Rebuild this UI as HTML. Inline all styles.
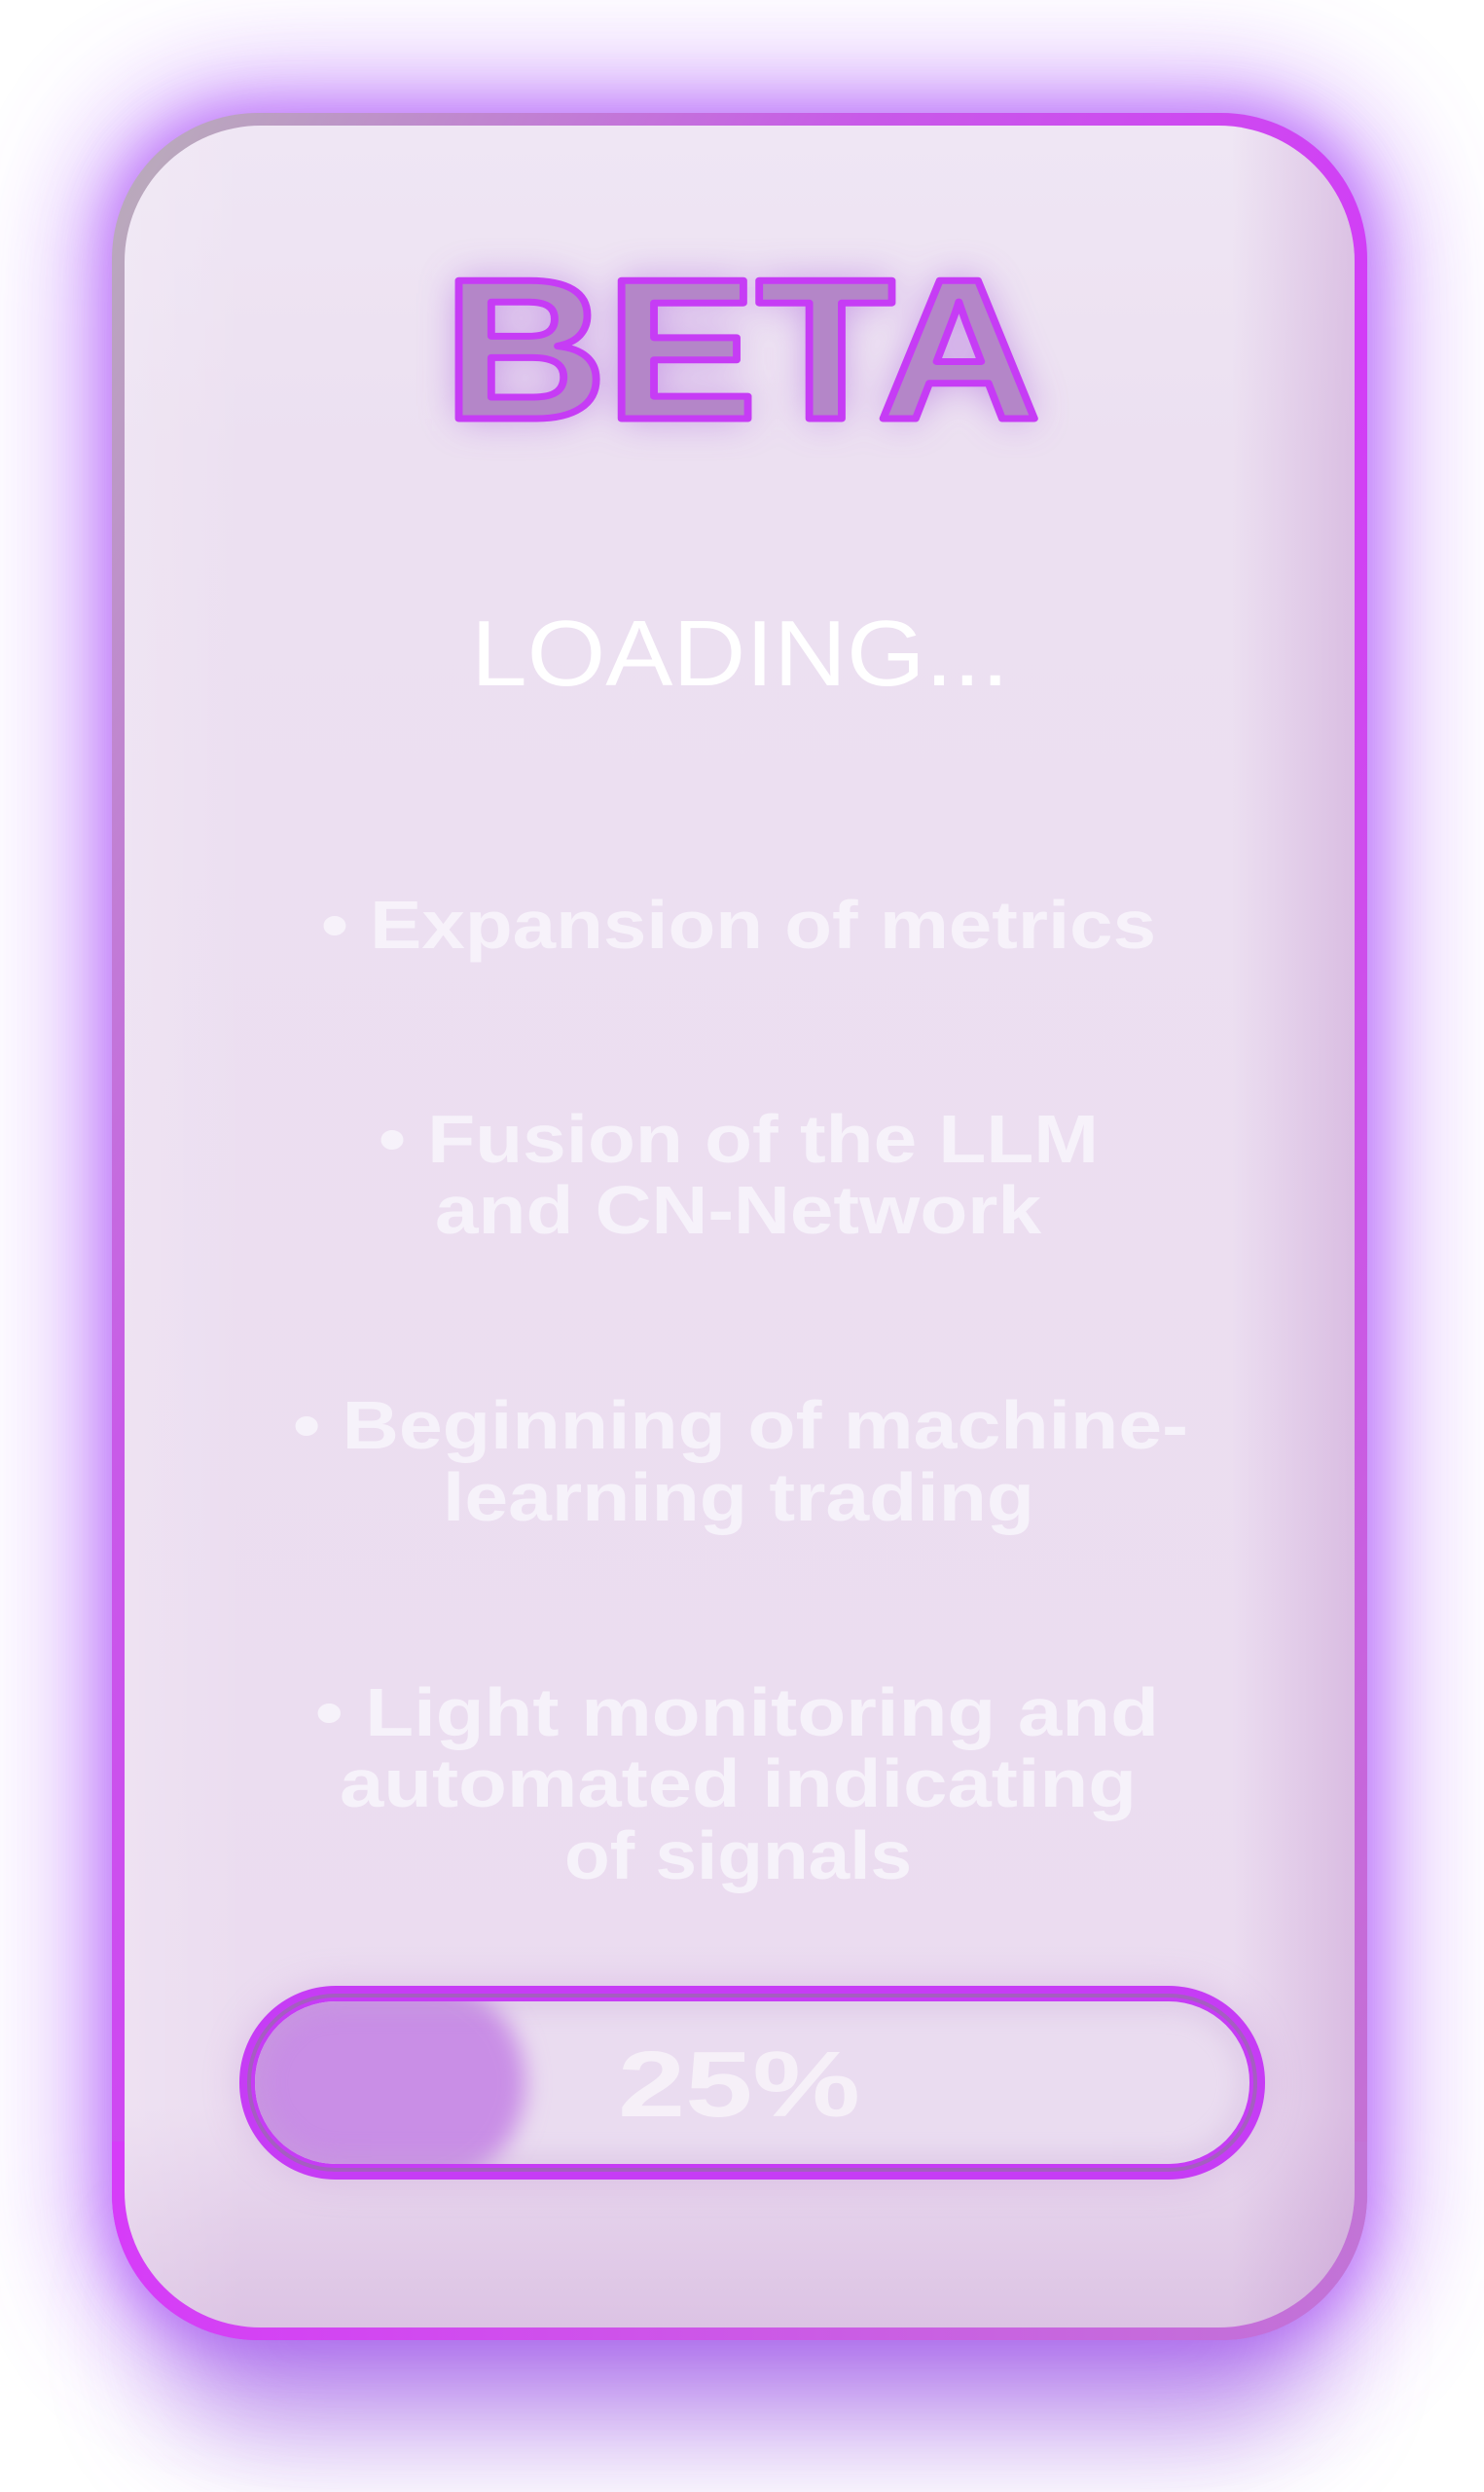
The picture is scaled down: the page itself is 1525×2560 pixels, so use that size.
<!DOCTYPE html>
<html><head><meta charset="utf-8"><style>
html,body{margin:0;padding:0;background:#fff;}
svg{display:block}
</style></head><body>
<svg width="1525" height="2560" viewBox="0 0 1525 2560" xmlns="http://www.w3.org/2000/svg">
<defs>
<filter id="glow" x="-30%" y="-30%" width="160%" height="160%"><feGaussianBlur stdDeviation="60"/></filter>
<filter id="glow2" x="-30%" y="-30%" width="160%" height="160%"><feGaussianBlur stdDeviation="25"/></filter>
<filter id="b20" x="-50%" y="-50%" width="200%" height="200%"><feGaussianBlur stdDeviation="20"/></filter>
<filter id="b10" x="-50%" y="-50%" width="200%" height="200%"><feGaussianBlur stdDeviation="12"/></filter>
<linearGradient id="border" x1="0" y1="0" x2="1" y2="1">
<stop offset="0" stop-color="#b8b0b8"/><stop offset="0.3" stop-color="#c85ae8"/><stop offset="0.55" stop-color="#d23cf7"/><stop offset="1" stop-color="#c277d0"/>
</linearGradient>
<linearGradient id="bl" x1="0" y1="0" x2="1" y2="0">
<stop offset="0" stop-color="#d63cf8"/><stop offset="1" stop-color="#c274d6"/>
</linearGradient>
<linearGradient id="fillv" x1="0" y1="0" x2="0" y2="1">
<stop offset="0" stop-color="#efe6f4"/><stop offset="0.15" stop-color="#ece0f1"/><stop offset="0.9" stop-color="#ebdcf0"/><stop offset="1" stop-color="#dcc3e4"/>
</linearGradient>
<linearGradient id="fillh" x1="0" y1="0" x2="1" y2="0">
<stop offset="0" stop-color="#fff" stop-opacity="0.15"/><stop offset="0.1" stop-color="#fff" stop-opacity="0"/><stop offset="0.9" stop-color="#b070c0" stop-opacity="0"/><stop offset="1" stop-color="#b070c0" stop-opacity="0.3"/>
</linearGradient>
<clipPath id="barclip"><rect x="262" y="2056" width="1022" height="167" rx="83"/></clipPath>
</defs>

<!-- outer glow -->
<rect x="95" y="96" width="1330" height="2328" rx="160" fill="#b060fa" opacity="0.75" filter="url(#glow)"/>
<rect x="110" y="111" width="1300" height="2298" rx="150" fill="#b25cf8" opacity="0.6" filter="url(#glow2)"/>
<rect x="170" y="2300" width="1180" height="200" rx="100" fill="#9a5ce0" opacity="0.55" filter="url(#glow)"/>

<!-- card -->
<rect x="115" y="116" width="1290" height="2288" rx="150" fill="url(#border)"/>
<path d="M115 1400 L115 2254 A150 150 0 0 0 265 2404 L1255 2404 A150 150 0 0 0 1405 2254 L1405 2200 L115 2200 Z" fill="url(#bl)"/>
<rect x="128" y="129" width="1264" height="2262" rx="140" fill="url(#fillv)"/>
<rect x="128" y="129" width="1264" height="2262" rx="140" fill="url(#fillh)"/>

<!-- BETA -->
<text x="456" y="430" textLength="613" lengthAdjust="spacingAndGlyphs" font-family="Liberation Sans, sans-serif" font-weight="bold" font-size="206" fill="#a050d8" opacity="0.55" filter="url(#b20)">BETA</text>
<text x="456" y="430" textLength="613" lengthAdjust="spacingAndGlyphs" font-family="Liberation Sans, sans-serif" font-weight="bold" font-size="206" fill="#b486c8" stroke="#c63cf5" stroke-width="7" stroke-linejoin="round">BETA</text>

<!-- LOADING -->
<text x="484" y="704" textLength="553" lengthAdjust="spacingAndGlyphs" font-family="Liberation Sans, sans-serif" font-size="96" fill="#ffffff">LOADING...</text>

<!-- bullets -->
<g font-family="Liberation Sans, sans-serif" font-weight="bold" font-size="70" fill="#f8f4fb" opacity="0.92">
<text x="330" y="974" textLength="858" lengthAdjust="spacingAndGlyphs">• Expansion of metrics</text>
<text x="389" y="1194" textLength="740" lengthAdjust="spacingAndGlyphs">• Fusion of the LLM</text>
<text x="447" y="1267" textLength="623" lengthAdjust="spacingAndGlyphs">and CN-Network</text>
<text x="301" y="1488" textLength="920" lengthAdjust="spacingAndGlyphs">• Beginning of machine-</text>
<text x="455" y="1562" textLength="608" lengthAdjust="spacingAndGlyphs">learning trading</text>
<text x="324" y="1783" textLength="867" lengthAdjust="spacingAndGlyphs">• Light monitoring and</text>
<text x="349" y="1856" textLength="819" lengthAdjust="spacingAndGlyphs">automated indicating</text>
<text x="580" y="1930" textLength="357" lengthAdjust="spacingAndGlyphs">of signals</text>
</g>

<!-- progress bar -->
<rect x="246" y="2040" width="1054" height="199" rx="99" fill="#b070c8" opacity="0.25" filter="url(#b20)"/>
<rect x="246" y="2040" width="1054" height="199" rx="99" fill="#c63cf5"/>
<rect x="256" y="2050" width="1034" height="179" rx="89" fill="none" stroke="#a45ec0" stroke-width="4"/>
<rect x="262" y="2056" width="1022" height="167" rx="83" fill="#eadcf0"/>
<g clip-path="url(#barclip)">
<rect x="210" y="2030" width="330" height="220" rx="110" fill="#c98ee6" filter="url(#b10)"/>
<rect x="262" y="2056" width="1022" height="167" rx="83" fill="none" stroke="#c8a8d8" stroke-width="14" opacity="0.5" filter="url(#b10)"/>
</g>
<text x="635" y="2174" textLength="249" lengthAdjust="spacingAndGlyphs" font-family="Liberation Sans, sans-serif" font-weight="bold" font-size="96" fill="#f6f0f8">25%</text>
</svg>
</body></html>
